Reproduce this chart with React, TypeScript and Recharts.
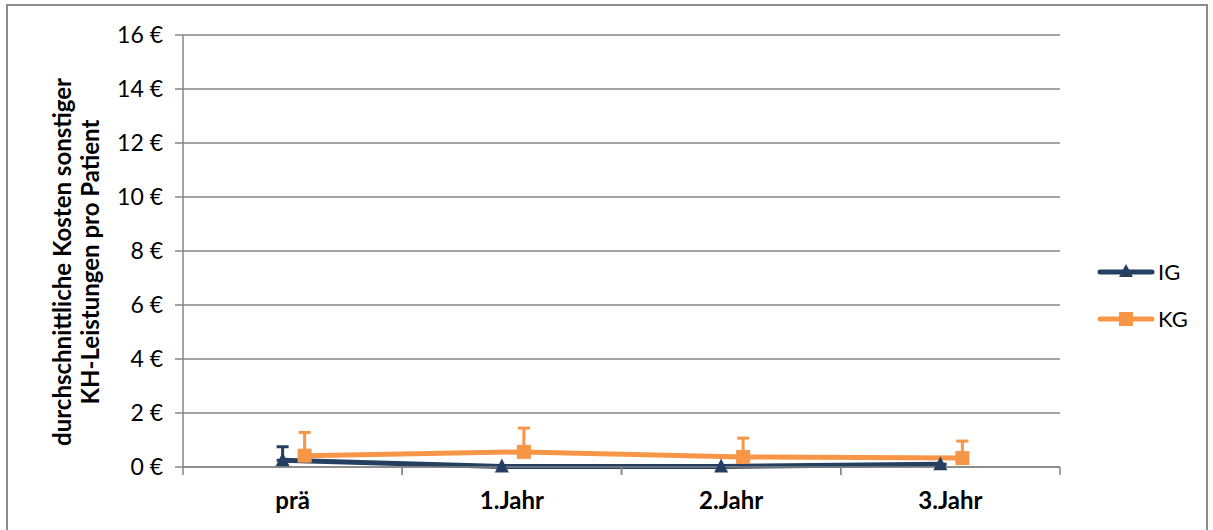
import { LineChart, Line, XAxis, YAxis, CartesianGrid, ErrorBar } from 'recharts';

const categories = ['prä', '1.Jahr', '2.Jahr', '3.Jahr'];
const igValues = [0.25, 0.02, 0.02, 0.1];
const igErrors = [0.5, 0, 0, 0];
const kgValues = [0.42, 0.56, 0.37, 0.33];
const kgErrors = [0.86, 0.88, 0.7, 0.63];
const yTicks = [0, 2, 4, 6, 8, 10, 12, 14, 16];

const data = categories.map((name, i) => ({
  name,
  IG: igValues[i],
  igErr: [0, igErrors[i]],
  KG: kgValues[i],
  kgErr: [0, kgErrors[i]],
}));

const IG_COLOR = '#243F60';
const KG_COLOR = '#F79646';
const GRID = '#868686';
const FONT = 'Lato, "Open Sans", sans-serif';

const PLOT_W = 877;
const BAND = PLOT_W / 4;
const HALF = BAND / 2;

const Triangle = (props: any) => {
  const { cx, cy } = props;
  if (cx == null || cy == null) return null;
  return <polygon points={`${cx},${cy - 8} ${cx - 7},${cy + 6} ${cx + 7},${cy + 6}`} fill={IG_COLOR} />;
};

const Square = (props: any) => {
  const { cx, cy } = props;
  if (cx == null || cy == null) return null;
  return <rect x={cx - 7} y={cy - 7} width={14} height={14} fill={KG_COLOR} />;
};

const CategoryTick = (props: any) => {
  const { x, y, payload } = props;
  return (
    <g>
      <line x1={x - HALF} x2={x - HALF} y1={y - 8} y2={y} stroke={GRID} strokeWidth={1.5} />
      <line x1={x + HALF} x2={x + HALF} y1={y - 8} y2={y} stroke={GRID} strokeWidth={1.5} />
      <text x={x} y={y} dy={34} textAnchor="middle" fontSize={24} fontWeight="bold" fill="#000" fontFamily={FONT}>
        {payload.value}
      </text>
    </g>
  );
};

const LegendItem = ({ label, color, shape }: { label: string; color: string; shape: 'tri' | 'sq' }) => (
  <div style={{ display: 'flex', alignItems: 'center', height: 47 }}>
    <svg width={58} height={20}>
      <line x1={3} x2={55} y1={10} y2={10} stroke={color} strokeWidth={5} strokeLinecap="round" />
      {shape === 'tri' ? (
        <polygon points="29,2 22,15 36,15" fill={color} />
      ) : (
        <rect x={22} y={3} width={14} height={14} fill={color} />
      )}
    </svg>
    <span style={{ fontSize: 22, marginLeft: 3 }}>{label}</span>
  </div>
);

export default function App() {
  return (
    <div style={{ position: 'absolute', left: 0, top: 0, width: 1213, height: 530, overflow: 'hidden', fontFamily: FONT, background: '#fff' }}>
      <div style={{ position: 'absolute', left: 6, top: 4, width: 1198, height: 560, border: '2px solid #8c8c8c' }} />
      <LineChart
        width={1213}
        height={530}
        data={data}
        margin={{ top: 35, right: 153, bottom: 0, left: 103 }}
        style={{ position: 'absolute', left: 0, top: 0 }}
      >
        <CartesianGrid xAxisId="main" vertical={false} stroke={GRID} strokeWidth={1.5} />
        <XAxis
          xAxisId="main"
          dataKey="name"
          padding={{ left: HALF, right: HALF }}
          axisLine={{ stroke: GRID, strokeWidth: 1.5 }}
          tickLine={false}
          tickSize={8}
          tickMargin={0}
          tick={<CategoryTick />}
          height={63}
          interval={0}
        />
        <XAxis xAxisId="ig" dataKey="name" hide height={0} padding={{ left: HALF - 10, right: HALF + 10 }} />
        <XAxis xAxisId="kg" dataKey="name" hide height={0} padding={{ left: HALF + 12, right: HALF - 12 }} />
        <YAxis
          domain={[0, 16]}
          ticks={yTicks}
          width={80}
          tickFormatter={(v: number) => `${v} €`}
          axisLine={{ stroke: GRID, strokeWidth: 1.5 }}
          tickLine={{ stroke: GRID, strokeWidth: 1.5 }}
          tickSize={8}
          tickMargin={12}
          tick={{ fill: '#000', fontSize: 23, fontFamily: FONT }}
        />
        <Line
          xAxisId="kg"
          dataKey="KG"
          stroke={KG_COLOR}
          strokeWidth={5}
          dot={<Square />}
          isAnimationActive={false}
        >
          <ErrorBar dataKey="kgErr" direction="y" width={6} stroke={KG_COLOR} strokeWidth={3} />
        </Line>
        <Line
          xAxisId="ig"
          dataKey="IG"
          stroke={IG_COLOR}
          strokeWidth={5}
          dot={<Triangle />}
          isAnimationActive={false}
        >
          <ErrorBar dataKey="igErr" direction="y" width={6} stroke={IG_COLOR} strokeWidth={3} />
        </Line>
      </LineChart>
      <div
        style={{
          position: 'absolute',
          left: 76,
          top: 262,
          transform: 'translate(-50%, -50%) rotate(-90deg)',
          whiteSpace: 'nowrap',
          textAlign: 'center',
          fontWeight: 'bold',
          fontSize: 24,
          lineHeight: '28px',
        }}
      >
        durchschnittliche Kosten sonstiger
        <br />
        KH-Leistungen pro Patient
      </div>
      <div style={{ position: 'absolute', left: 1097, top: 248 }}>
        <LegendItem label="IG" color={IG_COLOR} shape="tri" />
        <LegendItem label="KG" color={KG_COLOR} shape="sq" />
      </div>
    </div>
  );
}
